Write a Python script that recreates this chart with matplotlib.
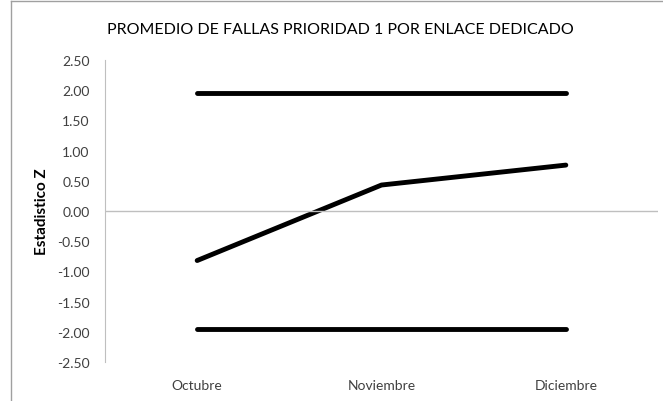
import matplotlib
matplotlib.use("Agg")
import matplotlib.pyplot as plt
from matplotlib.lines import Line2D

plt.rcParams['font.family'] = ['Lato', 'DejaVu Sans']

meses = ["Octubre", "Noviembre", "Diciembre"]
z_valores = [-0.82, 0.43, 0.76]
limite_sup = [1.96, 1.96, 1.96]
limite_inf = [-1.96, -1.96, -1.96]
yticks = [-2.5, -2.0, -1.5, -1.0, -0.5, 0.0, 0.5, 1.0, 1.5, 2.0, 2.5]

fig = plt.figure(figsize=(6.63, 4.02), dpi=100)
ax = fig.add_axes([105 / 663, 39 / 402, 553 / 663, 302 / 402])

x = range(len(meses))
for serie in (limite_sup, z_valores, limite_inf):
    ax.plot(x, serie, color="black", lw=3.5, solid_capstyle="round",
            solid_joinstyle="round")

ax.set_xlim(-0.5, 2.5)
ax.set_ylim(-2.5, 2.5)
ax.set_yticks(yticks)
ax.set_yticklabels(["%.2f" % v for v in yticks], fontsize=10, color="#404040")
ax.set_xticks(list(x))
ax.set_xticklabels(meses, fontsize=10, color="#404040")
ax.tick_params(axis="both", length=0)
ax.tick_params(axis="y", pad=11)
ax.tick_params(axis="x", pad=12)

for s in ("top", "right", "bottom"):
    ax.spines[s].set_visible(False)
ax.spines["left"].set_color("#bfbfbf")
ax.axhline(0, color="#bfbfbf", lw=1)

ax.set_ylabel("Estadistico Z", fontsize=11, fontweight="bold")
ax.yaxis.set_label_coords(-0.102, 0.5)

fig.text(0.513, 0.925, "PROMEDIO DE FALLAS PRIORIDAD 1 POR ENLACE DEDICADO",
         ha="center", va="center", fontsize=11.5, color="black")

# marco del grafico (solo izquierda y arriba visibles)
fig.add_artist(Line2D([11 / 663, 11 / 663], [0, 400 / 402], color="#a0a0a0", lw=1))
fig.add_artist(Line2D([11 / 663, 1], [400 / 402, 400 / 402], color="#a0a0a0", lw=1))

fig.savefig("out.png", dpi=100)
